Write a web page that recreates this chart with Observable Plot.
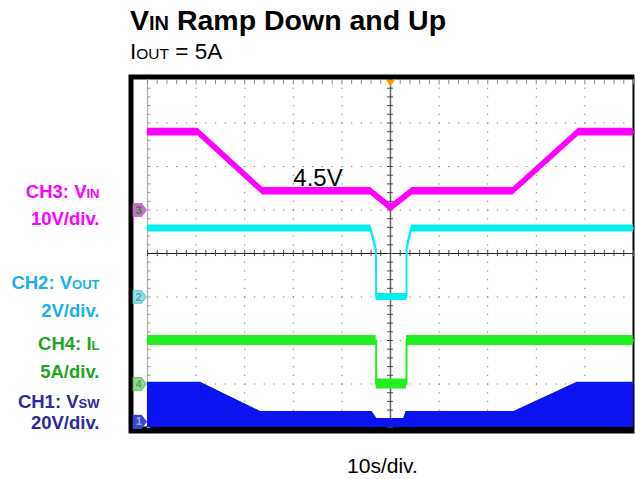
<!DOCTYPE html>
<html><head><meta charset="utf-8">
<script src="https://cdn.jsdelivr.net/npm/d3@7"></script>
<script src="https://cdn.jsdelivr.net/npm/@observablehq/plot@0.6"></script>
<style>
body{margin:0;background:#fff;}
#wrap{position:relative;width:635px;height:479px;overflow:hidden;font-family:"Liberation Sans",Arial,sans-serif;}
#chart{position:absolute;left:0;top:0;}
#overlay{position:absolute;left:0;top:0;pointer-events:none;font-family:"Liberation Sans",Arial,sans-serif;}
</style></head><body>
<div id="wrap"><div id="chart"></div><svg id="overlay" width="635" height="479"></svg></div>
<script>
// ---- data (time in s, 10 s/div) ----
const timeVin  = [0, 10.4, 23.7, 45.9, 50.1, 54.5, 75.2, 88.7, 100];
const vin      = [17.9, 17.9, 4.3, 4.3, 0.5, 4.3, 4.3, 17.9, 17.9];
const timeVout = [0, 45.9, 47.0, 47.05, 53.3, 53.3, 54.3, 100];
const vout     = [3.15, 3.15, 2.2, 0, 0, 2.2, 3.15, 3.15];
const timeIL   = [0, 47.05, 47.05, 53.3, 53.3, 100];
const il       = [5, 5, 0, 0, 5, 5];
const timeVsw  = [0, 10.9, 23.3, 46.2, 47.2, 52.7, 53.2, 75.4, 88.4, 100];
const vsw      = [18.2, 18.2, 4.7, 4.7, 1.5, 1.5, 4.7, 4.7, 18.2, 18.2];
// channel settings
const channels = ["1", "2", "3", "4"];
const perDiv   = [20, 2, 10, 5];      // V/div or A/div
const offsets  = [0.13, 3, 5, 1];      // ground marker position in divisions
const annoText = ["4.5V"];
const annoTime = [30.0];

const PXDIV = 43.5;
const toDiv = (ch, v) => v / perDiv[ch] + offsets[ch];
function band(times, vals, ch, halfPx) {
  const h = halfPx / PXDIV;
  return times.map((t, i) => { const y = toDiv(ch, vals[i]); return {t, y, lo: y - h, hi: y + h}; });
}
const d1 = band(timeVsw, vsw, 0, 0);
const d2 = band(timeVout, vout, 1, 3.6);
const d3c = band(timeVin, vin, 2, 3.8);
const d4 = band(timeIL, il, 3, 5);

const xMinor = d3.range(0, 100.001, 2);
const yMinor = d3.range(0, 8.001, 0.2);

const tag = {draw(ctx, size){const s=Math.sqrt(size/Math.PI);ctx.moveTo(-s,-s);ctx.lineTo(s*0.25,-s);ctx.lineTo(s,0);ctx.lineTo(s*0.25,s);ctx.lineTo(-s,s);ctx.closePath();}};
const tri = {draw(ctx, size){const s=Math.sqrt(size/Math.PI);ctx.moveTo(-s,-s*0.6);ctx.lineTo(s,-s*0.6);ctx.lineTo(0,s*0.9);ctx.closePath();}};

const markerStyle = [
  {fill:"#3a48d8", stroke:"#3a48d8", text:"#b0b0b0"},
  {fill:"#8fe6ec", stroke:"#6fd8e0", text:"#6a9a9a"},
  {fill:"#a08aa0", stroke:"#e060e0", text:"#606060"},
  {fill:"#90e090", stroke:"#70d070", text:"#6a9a6a"}
];
const markers = channels.map((c, i) => ({t: -1.6, y: offsets[i], label: c, ...markerStyle[i]}));

const chart = Plot.plot({
  width: 635, height: 479,
  marginLeft: 147, marginRight: 2, marginTop: 79, marginBottom: 52,
  x: {domain: [0, 100], axis: null},
  y: {domain: [0, 8], axis: null},
  style: {background: "white", overflow: "visible"},
  marks: [
    Plot.frame({fill: "black", insetLeft: -19, insetTop: -5, insetRight: -1, insetBottom: -6}),
    Plot.frame({fill: "white", insetLeft: -14, insetTop: 0, insetRight: 1, insetBottom: 1}),
    // graticule
    Plot.ruleY([1, 2, 3, 5, 6, 7], {stroke: "#777", strokeWidth: 1, strokeDasharray: "1.2 8.52"}),
    Plot.ruleX([10, 20, 30, 40, 60, 70, 80, 90], {stroke: "#777", strokeWidth: 1, strokeDasharray: "1.2 7.5"}),
    Plot.ruleX([0], {stroke: "#b0b0b0", strokeWidth: 1.2}),
    Plot.ruleY(yMinor, {y: d => d, x1: 0, x2: 0.7, stroke: "#999"}),
    Plot.ruleX(xMinor, {x: d => d, y1: 8, y2: 7.88, stroke: "#888"}),
    Plot.ruleY([4], {stroke: "#222", strokeWidth: 1}),
    Plot.ruleX(xMinor, {x: d => d, y1: 3.93, y2: 4.07, stroke: "#444"}),
    Plot.ruleX([50], {stroke: "#666", strokeWidth: 1.5}),
    Plot.ruleY(yMinor, {y: d => d, x1: 49.4, x2: 50.6, stroke: "#444"}),
    // traces
    Plot.areaY(d1, {x: "t", y1: 0, y2: "y", fill: "#0a14f0", curve: "linear"}),
    Plot.areaY(d4, {x: "t", y1: "lo", y2: "hi", fill: "#22ee22"}),
    Plot.line(d4, {x: "t", y: "y", stroke: "#22ee22", strokeWidth: 2}),
    Plot.areaY(d2, {x: "t", y1: "lo", y2: "hi", fill: "#00f0f0"}),
    Plot.line(d2, {x: "t", y: "y", stroke: "#00f0f0", strokeWidth: 2}),
    Plot.areaY(d3c, {x: "t", y1: "lo", y2: "hi", fill: "#ff00ff"}),
    Plot.line(d3c, {x: "t", y: "y", stroke: "#ff00ff", strokeWidth: 2}),
    // annotation
    Plot.text(annoText, {x: (d, i) => annoTime[i], y: () => toDiv(2, vin[3]), text: d => d, textAnchor: "start", lineAnchor: "bottom", dy: -5, fontSize: 24, fill: "#000", fontFamily: "Liberation Sans, Arial, sans-serif"}),
    // trigger marker
    Plot.dot([50], {x: d => d, y: 8, symbol: tri, r: 4.5, fill: "#ff9900", dy: 3}),
    // channel markers
    Plot.dot(markers, {x: "t", y: "y", symbol: tag, r: 6.3, fill: d => d.fill, stroke: d => d.stroke}),
    Plot.text(markers, {x: "t", y: "y", text: "label", dx: -1, fill: d => d.text, fontSize: 11, fontWeight: "bold", fontFamily: "Liberation Sans, Arial, sans-serif"})
  ]
});
document.getElementById("chart").appendChild(chart);

// ---- titles and channel labels ----
const ov = d3.select("#overlay");
function label(x, y, anchor, weight, color, parts) {
  const t = ov.append("text").attr("x", x).attr("y", y).attr("text-anchor", anchor)
    .attr("font-weight", weight).attr("fill", color);
  parts.forEach(([str, size]) => t.append("tspan").attr("font-size", size).text(str));
}
label(130, 30, "start", "bold", "#000", [["V", 28.5], ["IN", 20], [" Ramp Down and Up", 28.5]]);
label(130, 59, "start", "normal", "#000", [["I", 22.5], ["OUT", 15.5], [" = 5A", 22.5]]);
const L = 99.5;
label(L, 198, "end", "bold", "#ff00ff", [["CH3: V", 18.5], ["IN", 13]]);
label(L, 224.5, "end", "bold", "#ff00ff", [["10V/div.", 18.5]]);
label(L, 288.5, "end", "bold", "#1ab0ec", [["CH2: V", 18.5], ["OUT", 13]]);
label(L, 316.5, "end", "bold", "#1ab0ec", [["2V/div.", 18.5]]);
label(L, 349.5, "end", "bold", "#1fa51f", [["CH4: I", 18.5], ["L", 13]]);
label(L, 378, "end", "bold", "#1fa51f", [["5A/div.", 18.5]]);
label(L, 407.5, "end", "bold", "#2a2a9c", [["CH1: V", 18.5], ["SW", 13]]);
label(L, 428.5, "end", "bold", "#2a2a9c", [["20V/div.", 18.5]]);
label(382.5, 473, "middle", "normal", "#000", [["10s/div.", 21]]);
</script></body></html>
